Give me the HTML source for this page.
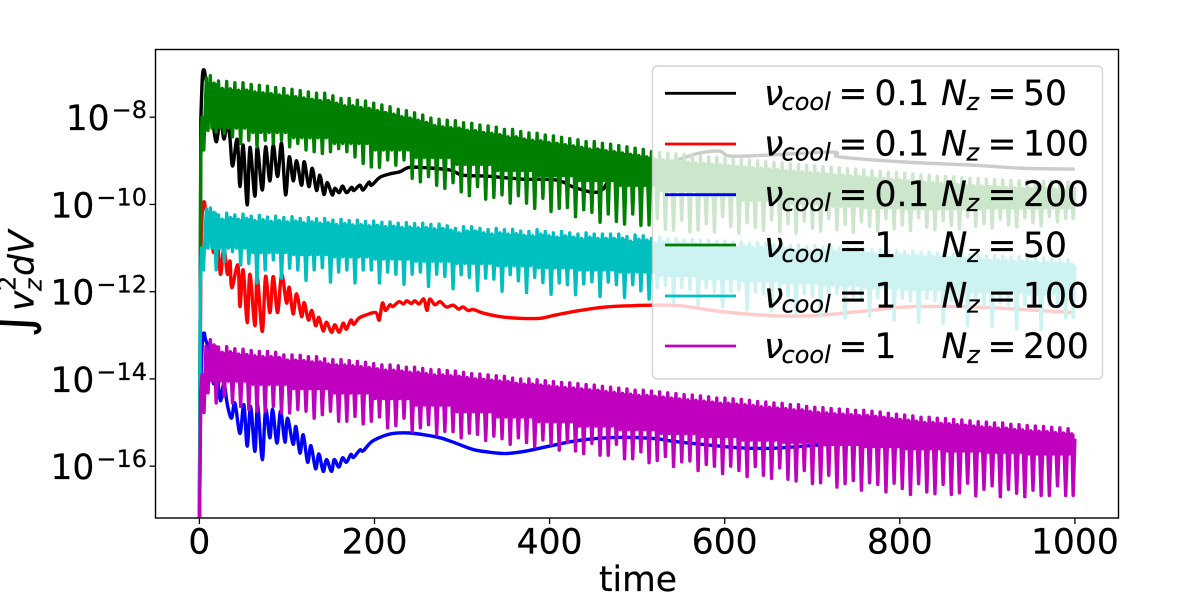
<!DOCTYPE html>
<html lang="en">
<head>
<meta charset="utf-8">
<title>Integrated vertical kinetic energy vs time</title>
<style>
html,body{margin:0;padding:0;background:#fff;width:1196px;height:596px;overflow:hidden}
svg{display:block;font-family:"DejaVu Sans","Liberation Sans",sans-serif}
text{fill:#000;stroke:#000;stroke-width:.2}
.it{font-style:italic}
</style>
</head>
<body>
<svg id="chart" width="1196" height="596" viewBox="0 0 1196 596" xmlns="http://www.w3.org/2000/svg">
<defs><clipPath id="plot-clip"><rect x="155.5" y="49.5" width="963" height="468.5"/></clipPath></defs>
<g id="series-layer" clip-path="url(#plot-clip)"></g>
<rect x="652.5" y="66" width="450" height="313" rx="5" ry="5" fill="#fff" fill-opacity="0.8" stroke="#ccc" stroke-opacity="0.85" stroke-width="1.4"/>
<rect x="155.5" y="49.5" width="963" height="468.5" fill="none" stroke="#000" stroke-width="1.4"/>
<g id="tick-layer"></g>
<text x="638" y="591" font-size="34.5" text-anchor="middle">time</text>
<g transform="translate(33.3,338) rotate(-90)">
<text x="0" y="-4" font-size="56" style="stroke-width:0">∫</text>
<text class="it" x="27" y="0" font-size="34.5">v</text>
<text x="47" y="-18" font-size="24">2</text>
<text class="it" x="47" y="8" font-size="24">z</text>
<text class="it" x="62" y="0" font-size="34.5">d</text>
<text class="it" x="84" y="0" font-size="34.5">V</text>
</g>
<g font-size="34.5">
<g>
<line x1="665" x2="736" y1="93.3" y2="93.3" stroke="#000" stroke-width="2.8"/>
<text class="it" x="764" y="105">ν</text><text class="it" x="781.5" y="110" font-size="24">cool</text><text x="838.5" y="105">=</text><text x="874.5" y="105">0.1</text><text class="it" x="941" y="105">N</text><text class="it" x="966.5" y="110" font-size="24">z</text><text x="987.5" y="105">=</text><text x="1023" y="105">50</text>
</g>
<g>
<line x1="665" x2="736" y1="144" y2="144" stroke="#f00" stroke-width="2.8"/>
<text class="it" x="764" y="155.6">ν</text><text class="it" x="781.5" y="160.6" font-size="24">cool</text><text x="838.5" y="155.6">=</text><text x="874.5" y="155.6">0.1</text><text class="it" x="941" y="155.6">N</text><text class="it" x="966.5" y="160.6" font-size="24">z</text><text x="987.5" y="155.6">=</text><text x="1023" y="155.6">100</text>
</g>
<g>
<line x1="665" x2="736" y1="194.7" y2="194.7" stroke="#00f" stroke-width="2.8"/>
<text class="it" x="764" y="206.2">ν</text><text class="it" x="781.5" y="211.2" font-size="24">cool</text><text x="838.5" y="206.2">=</text><text x="874.5" y="206.2">0.1</text><text class="it" x="941" y="206.2">N</text><text class="it" x="966.5" y="211.2" font-size="24">z</text><text x="987.5" y="206.2">=</text><text x="1023" y="206.2">200</text>
</g>
<g>
<line x1="665" x2="736" y1="245" y2="245" stroke="#008000" stroke-width="2.8"/>
<text class="it" x="764" y="256.8">ν</text><text class="it" x="781.5" y="261.8" font-size="24">cool</text><text x="838.5" y="256.8">=</text><text x="874.5" y="256.8">1</text><text class="it" x="941.5" y="256.8">N</text><text class="it" x="967" y="261.8" font-size="24">z</text><text x="987.5" y="256.8">=</text><text x="1023" y="256.8">50</text>
</g>
<g>
<line x1="665" x2="736" y1="296" y2="296" stroke="#00bfbf" stroke-width="2.8"/>
<text class="it" x="764" y="307.4">ν</text><text class="it" x="781.5" y="312.4" font-size="24">cool</text><text x="838.5" y="307.4">=</text><text x="874.5" y="307.4">1</text><text class="it" x="941.5" y="307.4">N</text><text class="it" x="967" y="312.4" font-size="24">z</text><text x="987.5" y="307.4">=</text><text x="1023" y="307.4">100</text>
</g>
<g>
<line x1="665" x2="736" y1="346" y2="346" stroke="#bf00bf" stroke-width="2.8"/>
<text class="it" x="764" y="358">ν</text><text class="it" x="781.5" y="363" font-size="24">cool</text><text x="838.5" y="358">=</text><text x="874.5" y="358">1</text><text class="it" x="941.5" y="358">N</text><text class="it" x="967" y="363" font-size="24">z</text><text x="987.5" y="358">=</text><text x="1023" y="358">200</text>
</g>
</g>
</svg>
<script>
// ---- tick labels
const xTicks = [0,200,400,600,800,1000];
const yTickExponents = [-8,-10,-12,-14,-16];

// ---- low-cooling runs: time and log10(value)
const blackTimes = [0,1.7,3.5,5.5,7,12,16,19.6,24,28,32,35,37.9,43.2,46.3,50,54.6,57.7,63.4,66,71.8,75.6,80.5,84.3,89.3,93.9,98.4,102.6,107.2,111,116.7,119.7,125,128.9,133.8,137.6,142.2,146,151.7,154.7,159.7,163.5,168,173.8,176.4,183.3,187,193.6,196.7,206,217.6,229,240,259.5,286,301,328,369.5,408,427,449.5,461,472,514.6,552,571.7,594.5,606,648,723.6,731.6,808,883.5,940.6,1000];
const blackValues = [-17.5,-7.99,-7.05,-6.92,-7.1,-7.6,-8.2,-8.56,-8,-8.5,-8.1,-8.5,-9.12,-8.51,-9.59,-8.64,-10.01,-8.69,-9.81,-8.68,-9.67,-8.68,-9.46,-8.64,-9.36,-8.6,-9.78,-8.91,-9.46,-9,-9.56,-9.02,-9.59,-9.17,-9.68,-9.33,-9.77,-9.5,-9.78,-9.63,-9.73,-9.58,-9.73,-9.61,-9.68,-9.56,-9.67,-9.49,-9.56,-9.38,-9.3,-9.25,-9.15,-9.16,-9.21,-9.33,-9.35,-9.42,-9.44,-9.6,-9.72,-9.65,-9.4,-9.17,-8.94,-8.82,-8.78,-8.89,-8.87,-8.8,-8.91,-9.03,-9.1,-9.17,-9.19];
const redTimes = [0,1.7,3.5,5.5,7,12,16,20,24,28,32,35,37,44,46.3,50,54.6,57.7,63.4,66,71.8,75.6,80.5,84.3,89.3,93.9,99.5,102.6,107,111,116.7,119.7,124.5,128.4,132.7,136.5,141.4,145.2,150.9,154.7,159.7,164.3,168,173,176.4,182,191,201.6,205.4,209,212.6,217.6,221,228,233,237,242,246,251,256.4,260,263,269,275,282,290,296,301,307,313,324,343,366,389,408,435,465,496,515,549,598,655,701,751,808,884,941,1000];
const redValues = [-17.5,-11,-10.1,-9.94,-10.1,-10.4,-11.1,-10.7,-11.6,-11,-11.6,-11.3,-11.91,-11.39,-12.34,-11.5,-12.71,-11.6,-12.78,-11.65,-12.91,-11.65,-12.48,-11.65,-12.48,-11.6,-12.26,-11.9,-12.51,-12.05,-12.57,-12.25,-12.65,-12.43,-12.78,-12.59,-12.9,-12.7,-12.93,-12.76,-12.93,-12.72,-12.86,-12.65,-12.75,-12.61,-12.53,-12.48,-12.65,-12.26,-12.43,-12.3,-12.34,-12.23,-12.28,-12.21,-12.27,-12.21,-12.28,-12.17,-12.43,-12.17,-12.3,-12.23,-12.35,-12.31,-12.4,-12.35,-12.43,-12.41,-12.49,-12.57,-12.61,-12.61,-12.53,-12.43,-12.35,-12.32,-12.31,-12.32,-12.46,-12.55,-12.55,-12.46,-12.35,-12.35,-12.41,-12.48];
const blueTimes = [0,1.7,3.5,5.5,7,12,16,20,24,28,32,36.7,40.5,46.3,50.8,54.6,58.5,63.4,66.5,71.8,75.6,80.5,83.6,88.6,92.7,97.7,100.7,107,110.2,114.8,118.6,123.6,127.4,132.7,136.5,141.4,145.2,150.9,154,159.3,163.5,168,173,176,183.3,187,196.7,210,221.4,240,259.5,275,290,313,335.6,351,374,400,427,457,488,522,541,579,617,655,697,731,750,800,850,929,1000];
const blueValues = [-17.5,-14,-13.1,-12.95,-13.1,-13.4,-14.1,-13.9,-14.5,-14.1,-14.6,-14.9,-14.55,-15.25,-14.59,-15.54,-14.63,-15.66,-14.59,-15.85,-14.7,-15.35,-14.7,-15.47,-14.74,-15.45,-14.9,-15.5,-15.09,-15.7,-15.28,-15.91,-15.53,-16.06,-15.72,-16.12,-15.85,-16.12,-15.85,-16.02,-15.81,-15.91,-15.73,-15.8,-15.63,-15.65,-15.44,-15.31,-15.25,-15.24,-15.29,-15.35,-15.45,-15.62,-15.69,-15.71,-15.65,-15.54,-15.43,-15.36,-15.34,-15.37,-15.43,-15.51,-15.58,-15.59,-15.53,-15.48,-15.45,-15.39,-15.42,-15.5,-15.55];

// ---- high-cooling runs: one value per oscillation period (log10)
const oscillationPeriod = 9.33;
const firstPeakTime = 12.5;
const greenRiseTimes = [0,1.5,3,5,8];
const greenRiseValues = [-17.5,-9,-8,-8.75,-7.1];
const greenPeaks = [-7.05,-7.17,-7.18,-7.21,-7.21,-7.25,-7.27,-7.29,-7.32,-7.34,-7.36,-7.39,-7.42,-7.45,-7.45,-7.51,-7.57,-7.57,-7.61,-7.63,-7.68,-7.72,-7.76,-7.82,-7.85,-7.9,-7.95,-8.02,-8.05,-8.07,
-8.08,-8.13,-8.14,-8.18,-8.2,-8.23,-8.28,-8.28,-8.33,-8.36,-8.37,-8.41,-8.43,-8.46,-8.49,-8.52,-8.56,-8.56,-8.6,-8.62,-8.65,-8.68,-8.71,-8.74,-8.79,
-8.81,-8.83,-8.84,-8.86,-8.88,-8.89,-8.91,-8.92,-8.94,-8.96,-8.97,-8.99,-9,-9.02,-9.03,-9.05,-9.07,-9.08,-9.1,-9.11,-9.13,-9.15,-9.16,-9.18,-9.19,-9.21,-9.23,-9.24,-9.26,-9.27,-9.29,-9.3,-9.32,-9.33,-9.35,-9.36,-9.37,-9.39,-9.4,-9.41,-9.42,-9.43,-9.44,-9.45,-9.46,-9.46,-9.47,-9.47,-9.48,-9.48,-9.49];
const greenSpikes = [-8.3,-8.34,-8.37,-8.45,-8.6,-8.53,-8.68,-8.53,-8.6,-8.53,-8.68,-8.6,-8.75,-8.79,-8.83,-8.79,-8.72,-8.79,-8.91,-9.06,-9.14,-9.15,-8.98,-9.1,-8.98,-9.4,-9.48,-9.36,-9.56,
-9.63,-9.5,-9.71,-9.8,-9.59,-9.88,-9.84,-9.78,-9.97,-9.8,-9.97,-10.09,-9.86,-10.16,-10.09,-10.07,-10.28,-10.12,-10.18,-10.41,-10.22,-10.39,-10.45,-10.22,-10.48,-10.47,
-10.32,-10.57,-10.59,-10.36,-10.63,-10.59,-10.44,-10.63,-10.28,-10.51,-10.66,-10.42,-10.52,-10.6,-10.35,-10.62,-10.44,-10.66,-10.38,-10.55,-10.61,-10.32,-10.58,-10.46,-10.64,-10.4,-10.5,-10.62,-10.33,-10.56,-10.47,-10.6,-10.3,-10.52,-10.58,-10.37,-10.48,-10.56,-10.28,-10.5,-10.44,-10.54,-10.34,-10.47,-10.52,-10.3,-10.42,-10.49,-10.28,-10.4,-10.32];
const greenFloor = [-8.25,-8.35,-8.47,-8.6,-8.75,-8.92,-9.08,-9.22,-9.34,-9.45,-9.56,-9.68,-9.8,-9.9,-9.98,-10.04,-10.08,-10.1,-10.1,-10.08,-10.08,-10.08];
const greenSubDrop = 0.17;
const greenEnd = -9.6;

const cyanRiseTimes = [0,1,2.5,4.5,8];
const cyanRiseValues = [-17.5,-12,-11,-11.5,-10.1];
const cyanPeaks = [-10.08,-10.24,-10.2,-10.24,-10.22,-10.27,-10.25,-10.29,-10.27,-10.3,-10.28,-10.32,-10.3,-10.33,-10.32,-10.36,-10.34,-10.37,-10.36,-10.39,-10.38,-10.41,-10.4,-10.43,-10.42,-10.44,-10.43,-10.46,-10.45,
-10.49,-10.55,-10.51,-10.51,-10.55,-10.58,-10.55,-10.58,-10.57,-10.61,-10.62,-10.58,-10.62,-10.65,-10.62,-10.65,-10.68,-10.65,-10.68,-10.68,-10.68,-10.68,-10.74,-10.7,-10.72,-10.78,
-10.76,-10.79,-10.78,-10.81,-10.8,-10.83,-10.82,-10.85,-10.84,-10.87,-10.86,-10.89,-10.88,-10.9,-10.92,-10.91,-10.94,-10.93,-10.96,-10.95,-10.98,-10.97,-11,-10.99,-11.02,-11.01,-11.04,-11.03,-11.06,-11.05,-11.08,-11.07,-11.1,-11.09,-11.12,-11.11,-11.14,-11.13,-11.16,-11.15,-11.18,-11.17,-11.19,-11.21,-11.2,-11.22,-11.24,-11.23,-11.25,-11.26,-11.27];
const cyanSpikes = [-11,-11.5,-11.31,-11.08,-11.39,-11.35,-11.8,-11.5,-11.27,-11.69,-11.46,-11.5,-11.74,-11.5,-11.45,-11.78,-11.55,-11.5,-11.8,-11.5,-11.5,-11.8,-11.55,-11.6,-11.83,-11.6,-11.55,-11.88,-11.6,
-11.65,-11.93,-11.61,-11.67,-11.97,-11.69,-11.71,-11.99,-11.61,-11.75,-12.02,-11.67,-11.79,-12.06,-11.8,-11.84,-12.07,-11.82,-11.77,-12.11,-11.78,-11.84,-12.13,-11.84,-11.98,-12.17,
-11.9,-11.85,-12.25,-11.9,-11.95,-12.3,-11.9,-12,-12.35,-12,-11.95,-12.42,-12,-12.05,-12.45,-12,-12.1,-12.5,-12.05,-12.1,-12.55,-12.1,-12.05,-12.6,-12.1,-12.15,-12.57,-12.15,-12.1,-12.65,-12.15,-12.2,-12.7,-12.15,-12.2,-12.72,-12.2,-12.25,-12.78,-12.2,-12.3,-12.8,-12.25,-12.3,-12.85,-12.3,-12.3,-12.87,-12.3,-12.3,-12.6];
const cyanFloor = [-11,-11.1,-11.15,-11.2,-11.25,-11.3,-11.35,-11.4,-11.45,-11.5,-11.55,-11.63,-11.7,-11.75,-11.8,-11.85,-11.9,-11.95,-12,-12,-12.05,-12.05];
const cyanSubDrop = 0.1;
const cyanEnd = -11.4;

const magentaRiseTimes = [0,1.5,3,5.3,7.5];
const magentaRiseValues = [-17.5,-14.3,-13.9,-14.77,-13.25];
const magentaPeaks = [-13.1,-13.27,-13.26,-13.31,-13.32,-13.35,-13.37,-13.37,-13.39,-13.45,-13.45,-13.46,-13.49,-13.49,-13.54,-13.56,-13.56,-13.58,-13.6,-13.62,-13.65,-13.68,-13.68,-13.7,-13.73,-13.73,-13.76,-13.79,-13.79,-13.81,
-13.82,-13.85,-13.88,-13.89,-13.91,-13.93,-13.94,-13.98,-14,-14,-14.02,-14.04,-14.06,-14.08,-14.09,-14.11,-14.13,-14.14,-14.17,-14.19,-14.21,-14.23,-14.26,-14.26,-14.28,
-14.3,-14.32,-14.34,-14.36,-14.37,-14.39,-14.41,-14.44,-14.44,-14.46,-14.47,-14.49,-14.52,-14.53,-14.55,-14.56,-14.59,-14.59,-14.63,
-14.65,-14.66,-14.68,-14.69,-14.7,-14.72,-14.72,-14.74,-14.76,-14.79,-14.81,-14.83,-14.85,-14.88,-14.88,-14.9,-14.91,-14.93,-14.94,-14.96,-14.98,-14.99,-15.01,-15.01,-15.04,-15.05,-15.07,-15.08,-15.09,-15.11,-15.12,-15.14];
const magentaSpikes = [-14.32,-14.55,-14.4,-14.55,-14.63,-14.7,-14.74,-14.74,-14.63,-14.78,-14.78,-14.7,-14.74,-14.9,-14.82,-14.74,-14.97,-14.97,-14.86,-15.03,-14.97,-14.87,-15.12,-15.07,-14.9,-15.2,-15.12,-15.05,-15.28,-15.2,
-15.21,-15.35,-15.24,-15.27,-15.41,-15.31,-15.37,-15.5,-15.35,-15.46,-15.56,-15.4,-15.5,-15.63,-15.46,-15.65,-15.71,-15.48,-15.75,-15.75,-15.5,-15.83,-15.83,-15.67,-15.92,
-15.87,-15.78,-16.01,-15.9,-15.88,-16.1,-15.96,-16,-16.17,-16,-16.1,-16.24,-16.01,-16.21,-16.28,-16.04,-16.3,-16.34,-16.1,-16.4,-16.38,-16.21,-16.48,-16.4,-16.33,
-16.55,-16.38,-16.42,-16.59,-16.39,-16.51,-16.65,-16.4,-16.59,-16.63,-16.42,-16.65,-16.61,-16.39,-16.68,-16.53,-16.45,-16.7,-16.53,-16.62,-16.7,-16.55,-16.67,-16.67,-16.45,-16.67];
const magentaFloor = [-14.05,-14.12,-14.22,-14.32,-14.45,-14.6,-14.75,-14.87,-14.98,-15.08,-15.16,-15.25,-15.32,-15.4,-15.45,-15.5,-15.55,-15.6,-15.65,-15.68,-15.72,-15.72];
const magentaSubDrop = 0.12;
const magentaEnd = -15.37;

// ---- axes
const NS = 'http://www.w3.org/2000/svg';
function xScale(t){ return 199.4 + 0.8755 * t; }
function yScale(v){ return 117.2 + (-8 - v) * 43.62; }

function toPath(points){
  return points.map(function(p,i){
    return (i ? 'L' : 'M') + xScale(p[0]).toFixed(2) + ' ' + yScale(p[1]).toFixed(2);
  }).join('');
}
// smooth (Catmull-Rom) path through the read values, used by the slowly varying runs
function toSmoothPath(points){
  const P = points.map(function(p){ return [xScale(p[0]), yScale(p[1])]; });
  let d = 'M' + P[0][0].toFixed(2) + ' ' + P[0][1].toFixed(2) + 'L' + P[1][0].toFixed(2) + ' ' + P[1][1].toFixed(2);
  for (let i = 1; i < P.length - 1; i++){
    const p0 = P[i - 1 < 1 ? 1 : i - 1], p1 = P[i], p2 = P[i + 1], p3 = P[Math.min(i + 2, P.length - 1)];
    d += 'C' + (p1[0] + (p2[0] - p0[0]) / 6).toFixed(2) + ' ' + (p1[1] + (p2[1] - p0[1]) / 6).toFixed(2) + ' ' +
         (p2[0] - (p3[0] - p1[0]) / 6).toFixed(2) + ' ' + (p2[1] - (p3[1] - p1[1]) / 6).toFixed(2) + ' ' +
         p2[0].toFixed(2) + ' ' + p2[1].toFixed(2);
  }
  return d;
}
function slowPoints(times, values){
  return times.map(function(t,i){ return [t, values[i]]; });
}
function floorAt(floors, i){
  return floors[Math.min(Math.floor(i / 5), floors.length - 1)];
}
function oscillationPoints(riseT, riseV, peaks, spikes, floors, drop, end){
  const pts = slowPoints(riseT, riseV);
  const T = oscillationPeriod;
  for (let i = 0; i < peaks.length; i++){
    const t = firstPeakTime + i * T;
    pts.push([t - 0.29 * T, spikes[i]]);
    pts.push([t, peaks[i]]);
    pts.push([t + 0.2 * T, floorAt(floors, i)]);
    pts.push([t + 0.45 * T, peaks[i] - drop]);
  }
  pts.push([998, spikes[spikes.length - 1]]);
  pts.push([1000, end]);
  return pts;
}
// the dense high-frequency core of a run: between the secondary peaks and the floor level
function corePoints(peaks, floors, drop){
  const T = oscillationPeriod;
  const top = [], bottom = [];
  for (let i = 0; i < peaks.length; i++){
    const t = firstPeakTime + i * T;
    top.push([t, peaks[i] - drop]);
    top.push([t + 0.8 * T, peaks[i] - drop]);
    bottom.unshift([t, floorAt(floors, i)]);
    bottom.unshift([t + 0.8 * T, floorAt(floors, i)]);
  }
  return top.concat(bottom);
}
function addLine(d, color){
  const el = document.createElementNS(NS, 'path');
  el.setAttribute('d', d);
  el.setAttribute('fill', 'none');
  el.setAttribute('stroke', color);
  el.setAttribute('stroke-width', '3.4');
  el.setAttribute('stroke-linejoin', 'round');
  document.getElementById('series-layer').appendChild(el);
  return el;
}
function addCore(pts, color){
  const el = document.createElementNS(NS, 'path');
  el.setAttribute('d', toPath(pts) + 'Z');
  el.setAttribute('fill', color);
  document.getElementById('series-layer').appendChild(el);
  return el;
}

let line;
line = addLine(toSmoothPath(slowPoints(blackTimes, blackValues)), '#000');


line = addLine(toSmoothPath(slowPoints(redTimes, redValues)), '#f00');


line = addLine(toSmoothPath(slowPoints(blueTimes, blueValues)), '#00f');



line = addCore(corePoints(greenPeaks, greenFloor, greenSubDrop), '#008000');


line = addLine(toPath(oscillationPoints(greenRiseTimes, greenRiseValues, greenPeaks, greenSpikes, greenFloor, greenSubDrop, greenEnd)), '#008000');



line = addCore(corePoints(cyanPeaks, cyanFloor, cyanSubDrop), '#00bfbf');


line = addLine(toPath(oscillationPoints(cyanRiseTimes, cyanRiseValues, cyanPeaks, cyanSpikes, cyanFloor, cyanSubDrop, cyanEnd)), '#00bfbf');



line = addCore(corePoints(magentaPeaks, magentaFloor, magentaSubDrop), '#bf00bf');


line = addLine(toPath(oscillationPoints(magentaRiseTimes, magentaRiseValues, magentaPeaks, magentaSpikes, magentaFloor, magentaSubDrop, magentaEnd)), '#bf00bf');



// ---- ticks
const tickLayer = document.getElementById('tick-layer');
xTicks.forEach(function(t){
  const x = xScale(t);
  const tick = document.createElementNS(NS, 'line');
  tick.setAttribute('x1', x); tick.setAttribute('x2', x);
  tick.setAttribute('y1', 518); tick.setAttribute('y2', 524);
  tick.setAttribute('stroke', '#000'); tick.setAttribute('stroke-width', '1.3');
  
  
  tickLayer.appendChild(tick);
  const label = document.createElementNS(NS, 'text');
  label.setAttribute('x', x); label.setAttribute('y', 553.5);
  label.setAttribute('font-size', '34.5'); label.setAttribute('text-anchor', 'middle');
  label.textContent = String(t);
  
  
  tickLayer.appendChild(label);
});
yTickExponents.forEach(function(e){
  const y = yScale(e);
  const tick = document.createElementNS(NS, 'line');
  tick.setAttribute('x1', 149.5); tick.setAttribute('x2', 155.5);
  tick.setAttribute('y1', y); tick.setAttribute('y2', y);
  tick.setAttribute('stroke', '#000'); tick.setAttribute('stroke-width', '1.3');
  
  
  tickLayer.appendChild(tick);
  const sup = document.createElementNS(NS, 'text');
  sup.setAttribute('x', 147); sup.setAttribute('y', y + 1);
  sup.setAttribute('font-size', '24'); sup.setAttribute('text-anchor', 'end');
  sup.textContent = '\u2212' + Math.abs(e);
  
  
  tickLayer.appendChild(sup);
  const base = document.createElementNS(NS, 'text');
  base.setAttribute('x', 147 - sup.getComputedTextLength() - 2);
  base.setAttribute('y', y + 13);
  base.setAttribute('font-size', '34.5'); base.setAttribute('text-anchor', 'end');
  base.textContent = '10';
  
  
  tickLayer.appendChild(base);
});
</script>
</body>
</html>
